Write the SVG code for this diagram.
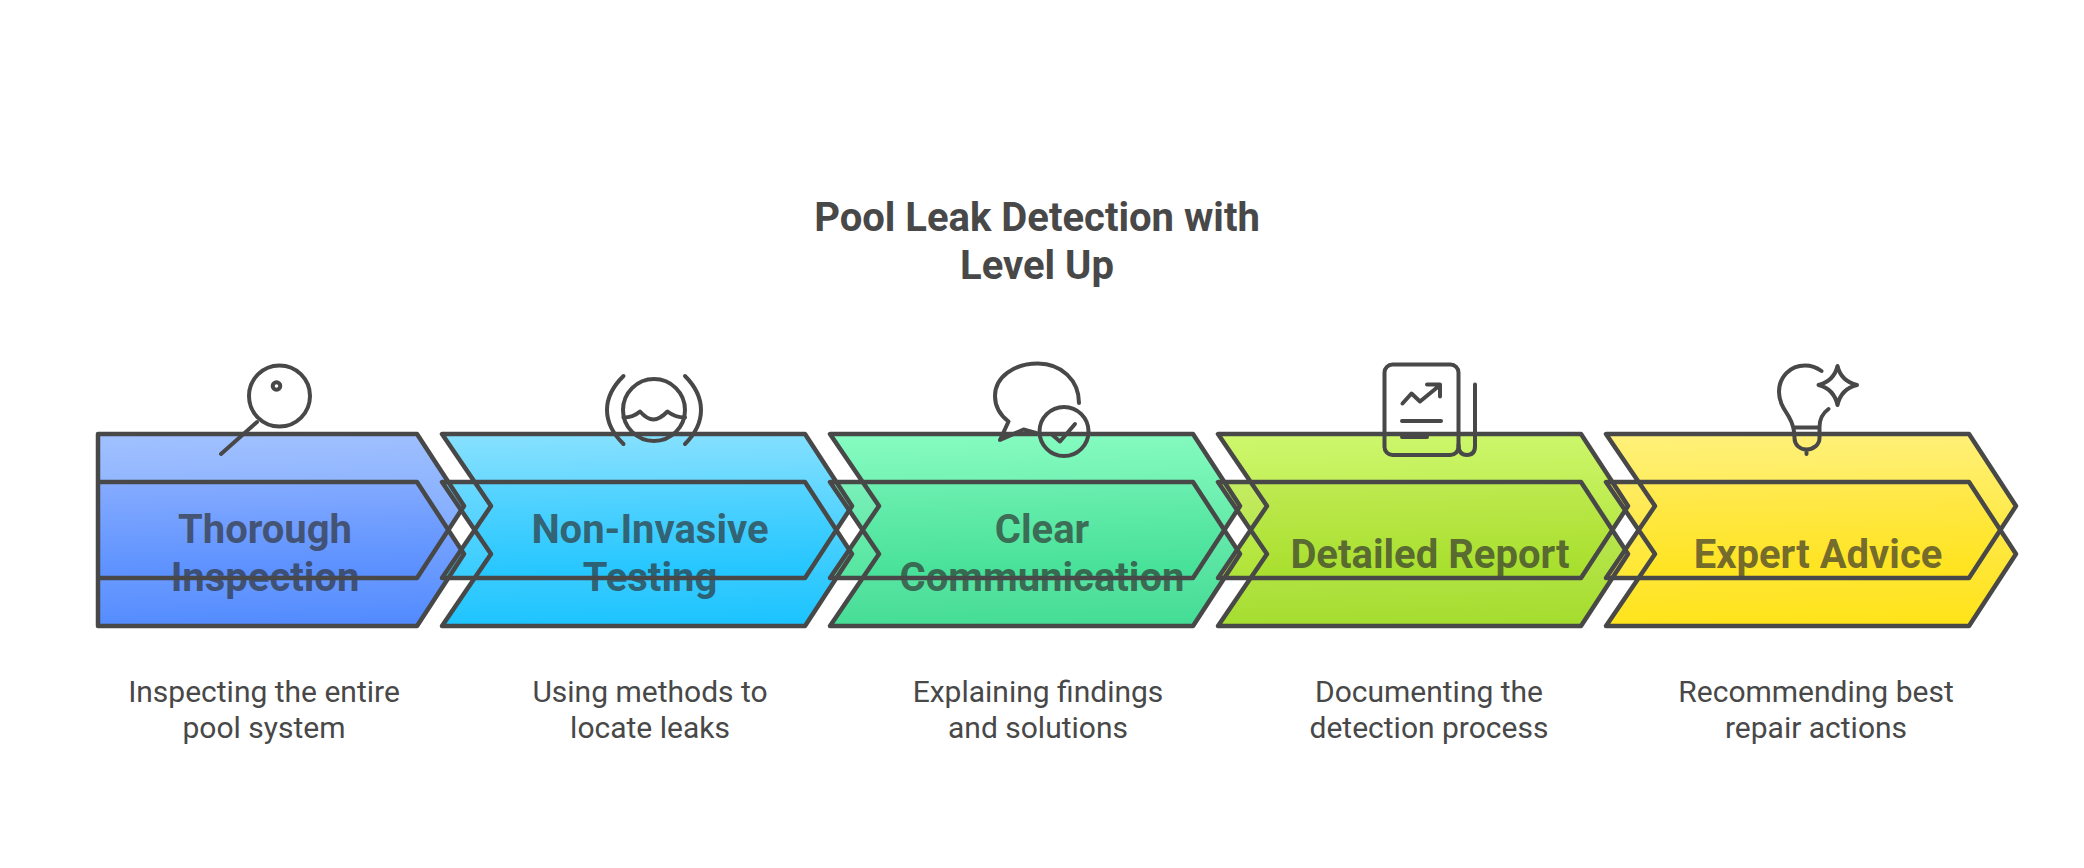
<svg xmlns="http://www.w3.org/2000/svg" width="2084" height="868" viewBox="0 0 2084 868">
<style>
text{font-family:Roboto,"Liberation Sans",sans-serif;text-anchor:middle}
.title{font-size:40px;font-weight:700;fill:#484848}
.label{font-size:40px;font-weight:700;fill:#2e2e2e;fill-opacity:.68}
.desc{font-size:30px;font-weight:400;fill:#484848}
.out{fill:none;stroke:#484848;stroke-width:4.5;stroke-linejoin:round;stroke-linecap:round}
.ic{fill:none;stroke:#484848;stroke-width:4;stroke-linejoin:round;stroke-linecap:round}
.b{fill-opacity:.9}
</style>
<defs>
<linearGradient id="a1" x1=".47" y1="0" x2=".53" y2="1"><stop offset="0" stop-color="#a0c0ff"/><stop offset="1" stop-color="#74a3ff"/></linearGradient>
<linearGradient id="b1" x1=".47" y1="0" x2=".53" y2="1"><stop offset="0" stop-color="#82a9ff"/><stop offset="1" stop-color="#3f7eff"/></linearGradient>
<linearGradient id="a2" x1=".47" y1="0" x2=".53" y2="1"><stop offset="0" stop-color="#85e0ff"/><stop offset="1" stop-color="#34cbff"/></linearGradient>
<linearGradient id="b2" x1=".47" y1="0" x2=".53" y2="1"><stop offset="0" stop-color="#58d4ff"/><stop offset="1" stop-color="#03bdff"/></linearGradient>
<linearGradient id="a3" x1=".47" y1="0" x2=".53" y2="1"><stop offset="0" stop-color="#85fbc0"/><stop offset="1" stop-color="#55e39f"/></linearGradient>
<linearGradient id="b3" x1=".47" y1="0" x2=".53" y2="1"><stop offset="0" stop-color="#6aeeaf"/><stop offset="1" stop-color="#30d98a"/></linearGradient>
<linearGradient id="a4" x1=".47" y1="0" x2=".53" y2="1"><stop offset="0" stop-color="#cdf76c"/><stop offset="1" stop-color="#afe236"/></linearGradient>
<linearGradient id="b4" x1=".47" y1="0" x2=".53" y2="1"><stop offset="0" stop-color="#bde94f"/><stop offset="1" stop-color="#9bd918"/></linearGradient>
<linearGradient id="a5" x1=".47" y1="0" x2=".53" y2="1"><stop offset="0" stop-color="#fff078"/><stop offset="1" stop-color="#ffe730"/></linearGradient>
<linearGradient id="b5" x1=".47" y1="0" x2=".53" y2="1"><stop offset="0" stop-color="#ffe94f"/><stop offset="1" stop-color="#ffe000"/></linearGradient>
</defs>
<rect width="2084" height="868" fill="#fff"/>
<g id="title"><text class="title" x="1037" y="230.500">Pool Leak Detection with</text><text class="title" x="1037" y="279">Level Up</text></g>
<g id="node-1">
<path fill="url(#a1)" d="M98 434H417L464 506L417 578H98Z"/><path class="b" fill="url(#b1)" d="M98 482H417L464 554L417 626H98Z"/>
<text class="label" x="265" y="543">Thorough</text><text class="label" x="265" y="591">Inspection</text>
<text class="desc" x="264" y="701.500">Inspecting the entire</text><text class="desc" x="264" y="737.500">pool system</text>
<g class="ic"><circle cx="279.5" cy="396" r="30.5"/><circle cx="276.5" cy="386" r="3.8"/><path d="M257 422L221 454"/></g>
</g>
<g id="node-2">
<path fill="url(#a2)" d="M442 434H805L852 506L805 578H442L491 506Z"/><path class="b" fill="url(#b2)" d="M442 482H805L852 554L805 626H442L491 554Z"/>
<text class="label" x="650" y="543">Non-Invasive</text><text class="label" x="650" y="591">Testing</text>
<text class="desc" x="650" y="701.500">Using methods to</text><text class="desc" x="650" y="737.500">locate leaks</text>
<g class="ic"><circle cx="654" cy="410" r="31"/><path d="M623.500 376Q607 392 607 410T623.500 444M685 376Q701 392 701 410T685 444"/><path d="M623.500 417.500C630 417.500 636 415 640 411.500C644 416 648 419.500 653.500 419.500C659 419.500 663 416 667.500 411.500C672 415 678 417.500 685 417.500"/></g>
</g>
<g id="node-3">
<path fill="url(#a3)" d="M830 434H1193L1240 506L1193 578H830L879 506Z"/><path class="b" fill="url(#b3)" d="M830 482H1193L1240 554L1193 626H830L879 554Z"/>
<text class="label" x="1042" y="543">Clear</text><text class="label" x="1042" y="591">Communication</text>
<text class="desc" x="1038" y="701.500">Explaining findings</text><text class="desc" x="1038" y="737.500">and solutions</text>
<g class="ic"><circle cx="1064" cy="431.500" r="24.500"/><path d="M1052.500 435L1060 441.500L1075 424"/><path d="M1079 403C1079 380 1061 363.500 1038 363.500C1014 363.500 995 377 995 396C995 406 1000 415 1008.500 421.500L1000 440L1023.500 429.500L1036 433"/></g>
</g>
<g id="node-4">
<path fill="url(#a4)" d="M1218 434H1581L1628 506L1581 578H1218L1267 506Z"/><path class="b" fill="url(#b4)" d="M1218 482H1581L1628 554L1581 626H1218L1267 554Z"/>
<text class="label" x="1430" y="568">Detailed Report</text>
<text class="desc" x="1429" y="701.500">Documenting the</text><text class="desc" x="1429" y="737.500">detection process</text>
<g class="ic"><rect x="1384.500" y="364.500" width="74" height="90.500" rx="8"/><path d="M1458.500 445Q1458.500 455 1467 455Q1475 455 1475 446V384.500"/><path d="M1402.500 403.500L1411.500 393.500L1420 401.500L1439.500 385.500M1427 384.500H1440V396.500M1402 421H1441M1402 437H1427"/></g>
</g>
<g id="node-5">
<path fill="url(#a5)" d="M1606 434H1969L2016 506L1969 578H1606L1655 506Z"/><path class="b" fill="url(#b5)" d="M1606 482H1969L2016 554L1969 626H1606L1655 554Z"/>
<text class="label" x="1818" y="568">Expert Advice</text>
<text class="desc" x="1816" y="701.500">Recommending best</text><text class="desc" x="1816" y="737.500">repair actions</text>
<g class="ic"><path d="M1821.500 371C1816 367 1811 365.500 1805 365.500C1790 365.500 1779 377 1779 392C1779 403 1785 410 1789 417C1793 424 1794.500 430 1794.500 438C1794.500 445 1800 449.500 1806.500 449.500C1813 449.500 1819.500 445 1819.500 438V427C1819.500 420 1823 413 1828.500 409M1794.500 427.500H1819.500M1806.500 449.500V454"/><path d="M1837.500 366Q1841 381 1857 385Q1841 389 1837.500 405Q1834 389 1818.500 385Q1834 381 1837.500 366Z"/></g>
</g>
<g id="outlines" class="out">
<path d="M98 434H417L464 506L417 578H98ZM98 482H417L464 554L417 626H98Z"/>
<path d="M442 434H805L852 506L805 578H442L491 506ZM442 482H805L852 554L805 626H442L491 554Z"/>
<path d="M830 434H1193L1240 506L1193 578H830L879 506ZM830 482H1193L1240 554L1193 626H830L879 554Z"/>
<path d="M1218 434H1581L1628 506L1581 578H1218L1267 506ZM1218 482H1581L1628 554L1581 626H1218L1267 554Z"/>
<path d="M1606 434H1969L2016 506L1969 578H1606L1655 506ZM1606 482H1969L2016 554L1969 626H1606L1655 554Z"/>
</g>
</svg>
